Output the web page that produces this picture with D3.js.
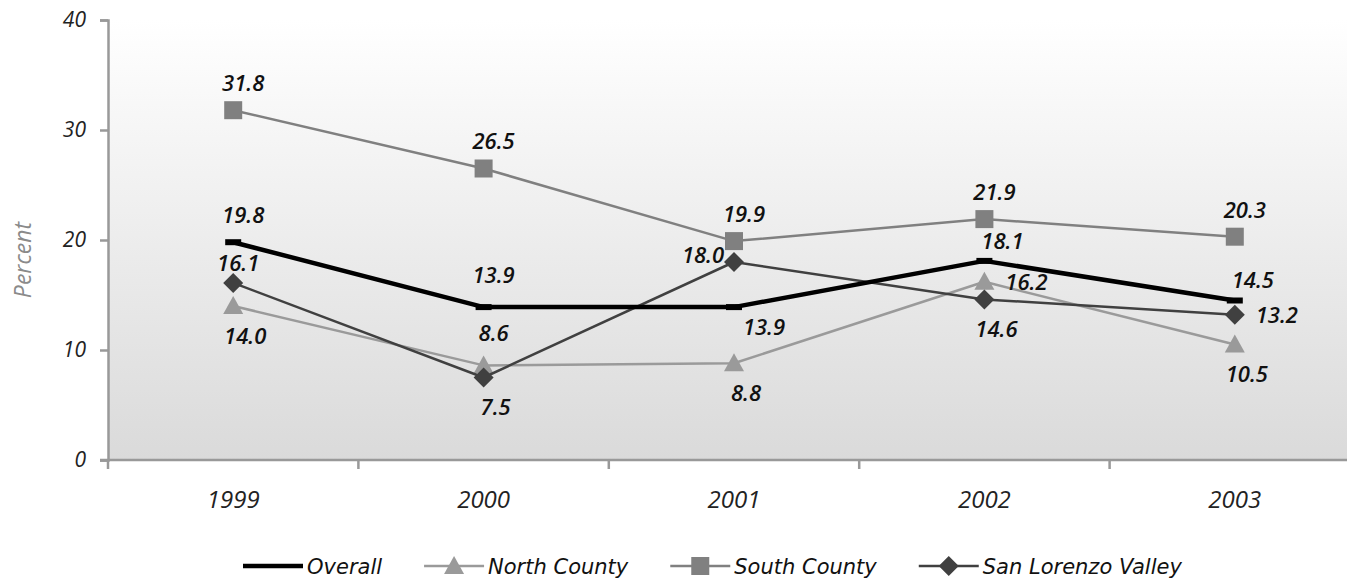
<!DOCTYPE html>
<html>
<head>
<meta charset="utf-8">
<script src="https://cdn.jsdelivr.net/npm/d3@7"></script>
<style>
  html, body { margin: 0; padding: 0; background: #fff; }
  svg { display: block; }
</style>
</head>
<body>
<svg id="chart" width="1347" height="582"></svg>
<script>
// Years on the x axis
const years = ["1999", "2000", "2001", "2002", "2003"];

// Percent by region
const overall      = [19.8, 13.9, 13.9, 18.1, 14.5];
const northCounty  = [14.0, 8.6, 8.8, 16.2, 10.5];
const southCounty  = [31.8, 26.5, 19.9, 21.9, 20.3];
const sanLorenzo   = [16.1, 7.5, 18.0, 14.6, 13.2];

const yTicks = [0, 10, 20, 30, 40];

// Where each value label sits relative to its point
const overallPlace = ["above", "aboveFar", "belowRight", "aboveRight", "aboveRight"];
const northPlace   = ["below", "aboveFar", "below", "right", "below"];
const southPlace   = ["above", "above", "above", "above", "above"];
const slvPlace     = ["aboveClose", "below", "left", "below", "right"];

const series = [
  { name: "Overall", values: overall, place: overallPlace, color: "#000", width: 4.5, marker: "dash" },
  { name: "North County", values: northCounty, place: northPlace, color: "#9a9a9a", width: 2.5, marker: "triangle" },
  { name: "South County", values: southCounty, place: southPlace, color: "#808080", width: 2.5, marker: "square" },
  { name: "San Lorenzo Valley", values: sanLorenzo, place: slvPlace, color: "#404040", width: 2.5, marker: "diamond" }
];

const svg = d3.select("#chart");
const W = 1347, H = 582;
const plot = { left: 108, top: 20, bottom: 460, right: 1360 };

const x = d3.scaleBand().domain(years).range([plot.left, plot.right]);
const y = d3.scaleLinear().domain([0, 40]).range([plot.bottom, plot.top]);
const cx = d => x(d) + x.bandwidth() / 2;

// Plot background gradient
const defs = svg.append("defs");
const grad = defs.append("linearGradient").attr("id", "bg")
  .attr("x1", 0).attr("y1", 0).attr("x2", 0).attr("y2", 1);
grad.append("stop").attr("offset", "0%").attr("stop-color", "#ffffff");
grad.append("stop").attr("offset", "100%").attr("stop-color", "#dadada");

svg.append("rect")
  .attr("x", plot.left).attr("y", plot.top)
  .attr("width", W - plot.left).attr("height", plot.bottom - plot.top)
  .attr("fill", "url(#bg)");

// Y axis
const yAxis = svg.append("g")
  .attr("transform", `translate(${plot.left},0)`)
  .call(d3.axisLeft(y).tickValues(yTicks).tickSize(8).tickPadding(14).tickFormat(d3.format("d")));
yAxis.select(".domain").attr("stroke", "#999").attr("stroke-width", 2.5);
yAxis.selectAll(".tick line").attr("stroke", "#999").attr("stroke-width", 2.5);
yAxis.selectAll(".tick text")
  .attr("font-family", "'Open Sans', sans-serif")
  .attr("font-style", "italic")
  .attr("font-size", 21)
  .attr("fill", "#222");

// X axis: tick marks at category boundaries, labels centred in bands
const xg = svg.append("g").attr("transform", `translate(0,${plot.bottom})`);
xg.append("line")
  .attr("x1", plot.left - 8).attr("x2", W)
  .attr("y1", 0).attr("y2", 0)
  .attr("stroke", "#999").attr("stroke-width", 2.5);
const bounds = years.map(d => x(d));
xg.selectAll("line.b").data(bounds).join("line").attr("class", "b")
  .attr("x1", d => d).attr("x2", d => d)
  .attr("y1", 0).attr("y2", 9)
  .attr("stroke", "#999").attr("stroke-width", 2.5);
xg.selectAll("text").data(years).join("text")
  .attr("x", d => cx(d)).attr("y", 48)
  .attr("text-anchor", "middle")
  .attr("font-family", "'Open Sans', sans-serif")
  .attr("font-style", "italic")
  .attr("font-size", 24)
  .attr("fill", "#222")
  .text(d => d);

// Y axis title
svg.append("text")
  .attr("transform", `translate(31,${(plot.top + plot.bottom) / 2 + 20}) rotate(-90)`)
  .attr("text-anchor", "middle")
  .attr("font-family", "'Open Sans', sans-serif")
  .attr("font-style", "italic")
  .attr("font-size", 23)
  .attr("fill", "#8a8a8a")
  .text("Percent");

// Marker shapes
function drawMarker(g, type, color, px, py) {
  if (type === "square") {
    g.append("rect").attr("x", px - 9).attr("y", py - 9).attr("width", 18).attr("height", 18).attr("fill", color);
  } else if (type === "triangle") {
    g.append("path").attr("d", `M${px},${py - 10} L${px + 10},${py + 8} L${px - 10},${py + 8} Z`).attr("fill", color);
  } else if (type === "diamond") {
    g.append("path").attr("d", `M${px},${py - 10} L${px + 10},${py} L${px},${py + 10} L${px - 10},${py} Z`).attr("fill", color);
  } else if (type === "dash") {
    g.append("rect").attr("x", px - 8).attr("y", py - 3).attr("width", 16).attr("height", 6).attr("fill", color);
  }
}

const line = d3.line().x(d => cx(d.year)).y(d => y(d.v));

// Draw series from back to front
const order = [series[1], series[2], series[3], series[0]];
order.forEach(s => {
  const pts = years.map((yr, i) => ({ year: yr, v: s.values[i] }));
  const g = svg.append("g");
  g.append("path").datum(pts)
    .attr("d", line)
    .attr("fill", "none")
    .attr("stroke", s.color)
    .attr("stroke-width", s.width)
    .attr("stroke-linejoin", "round");
  pts.forEach(p => drawMarker(g, s.marker, s.color, cx(p.year), y(p.v)));
});

// Value labels
const offsets = {
  above: [10, -27],
  aboveFar: [10, -32],
  aboveClose: [5, -20],
  below: [12, 30],
  right: [42, 0],
  left: [-31, -7],
  aboveRight: [18, -20],
  belowRight: [30, 20]
};
const labels = svg.append("g");
series.forEach(s => {
  years.forEach((yr, i) => {
    const v = s.values[i];
    const o = offsets[s.place[i]];
    labels.append("text")
      .attr("x", cx(yr) + o[0])
      .attr("y", y(v) + o[1])
      .attr("dy", "0.36em")
      .attr("text-anchor", "middle")
      .attr("font-family", "'Open Sans', sans-serif")
      .attr("font-style", "italic")
      .attr("font-weight", 600)
      .attr("font-size", 22)
      .attr("fill", "#111")
      .text(d3.format(".1f")(v));
  });
});

// Legend
const legend = svg.append("g").attr("transform", "translate(243,566)");
let lx = 0;
series.forEach(s => {
  const item = legend.append("g").attr("transform", `translate(${lx},0)`);
  item.append("line").attr("x1", 0).attr("x2", 60).attr("y1", 0).attr("y2", 0)
    .attr("stroke", s.color).attr("stroke-width", s.width);
  if (s.marker !== "dash") drawMarker(item, s.marker, s.color, 30, 0);
  const t = item.append("text")
    .attr("x", 64).attr("y", 0).attr("dy", "0.36em")
    .attr("font-family", "'DejaVu Sans', sans-serif")
    .attr("font-style", "italic")
    .attr("font-size", 21)
    .attr("fill", "#111")
    .text(s.name);
  lx += 64 + t.node().getComputedTextLength() + 42;
});
</script>
</body>
</html>
